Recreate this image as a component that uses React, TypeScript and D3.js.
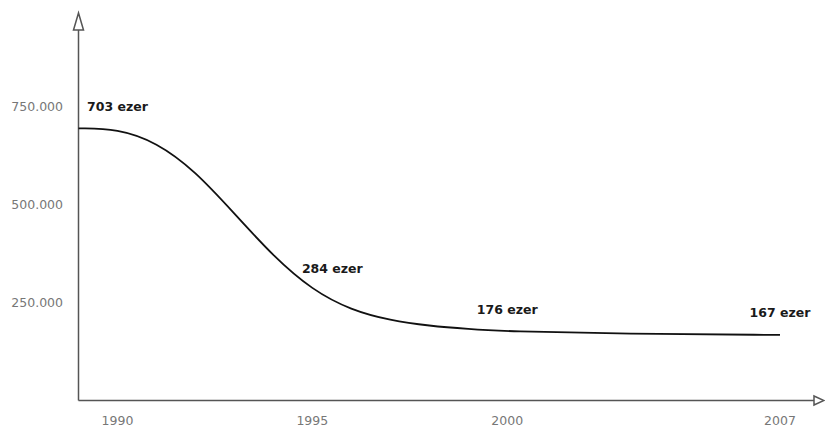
import React from "react";
import * as d3 from "d3";

// Curve as drawn in the reference (values in persons per year)
const lineYears = [1989, 1990, 1991, 1992, 1993, 1994, 1995, 1996, 1997, 1998, 1999, 2000, 2003, 2007];
const lineValues = [693000, 692000, 658000, 584000, 476000, 367000, 281000, 230000, 204000, 190000, 182000, 176000, 170000, 167000];
// Annotated values
const labelYears = [1990, 1995, 2000, 2007];
const labelTexts = ["703 ezer", "284 ezer", "176 ezer", "167 ezer"];
const xTickYears = [1990, 1995, 2000, 2007];
const yTickValues = [250000, 500000, 750000];
const yTickLabels = ["250.000", "500.000", "750.000"];

const W = 825;
const H = 427;

export default function App() {
  const ox = 78.5;
  const oy = 400.5;
  const x = d3.scaleLinear().domain([1989, 2007]).range([ox, 780]);
  const y = d3.scaleLinear().domain([0, 750000]).range([oy, 106]);
  const pts: [number, number][] = lineYears.map((yr, i) => [yr, lineValues[i]]);
  const line = d3
    .line<[number, number]>()
    .x((d) => x(d[0]))
    .y((d) => y(d[1]))
    .curve(d3.curveBasis);
  const axisColor = "#555";
  const font = "'DejaVu Sans', sans-serif";
  const labelDx = (yr: number) => (yr === 1995 ? 20 : 0);
  const valueAt = (yr: number) => lineValues[lineYears.indexOf(yr)];
  return (
    <svg
      width={W}
      height={H}
      style={{ position: "absolute", left: 0, top: 0, background: "#fff" }}
    >
      {/* y axis */}
      <line x1={ox} y1={oy} x2={ox} y2={30} stroke={axisColor} strokeWidth={1.5} />
      <polygon
        points={`${ox - 5},30 ${ox + 5},30 ${ox},13`}
        fill="#fff"
        stroke={axisColor}
        strokeWidth={1.5}
      />
      {/* x axis */}
      <line x1={ox} y1={oy} x2={814} y2={oy} stroke={axisColor} strokeWidth={1.5} />
      <polygon
        points={`814,${oy - 4.5} 814,${oy + 4.5} 824,${oy}`}
        fill="#fff"
        stroke={axisColor}
        strokeWidth={1.5}
      />
      {/* y tick labels */}
      {yTickValues.map((v, i) => (
        <text
          key={v}
          x={63}
          y={y(v)}
          textAnchor="end"
          dominantBaseline="central"
          fontFamily={font}
          fontSize={12.5}
          fill="#777"
        >
          {yTickLabels[i]}
        </text>
      ))}
      {/* x tick labels */}
      {xTickYears.map((yr) => (
        <text
          key={yr}
          x={x(yr)}
          y={420}
          textAnchor="middle"
          dominantBaseline="central"
          fontFamily={font}
          fontSize={12.5}
          fill="#777"
        >
          {yr}
        </text>
      ))}
      {/* curve */}
      <path d={line(pts) || ""} fill="none" stroke="#111" strokeWidth={1.8} />
      {/* value labels */}
      {labelYears.map((yr, i) => (
        <text
          key={yr}
          x={x(yr) + labelDx(yr)}
          y={y(valueAt(yr)) - 22}
          textAnchor="middle"
          dominantBaseline="central"
          fontFamily={font}
          fontWeight="bold"
          fontSize={12.5}
          fill="#1a1a1a"
        >
          {labelTexts[i]}
        </text>
      ))}
    </svg>
  );
}
